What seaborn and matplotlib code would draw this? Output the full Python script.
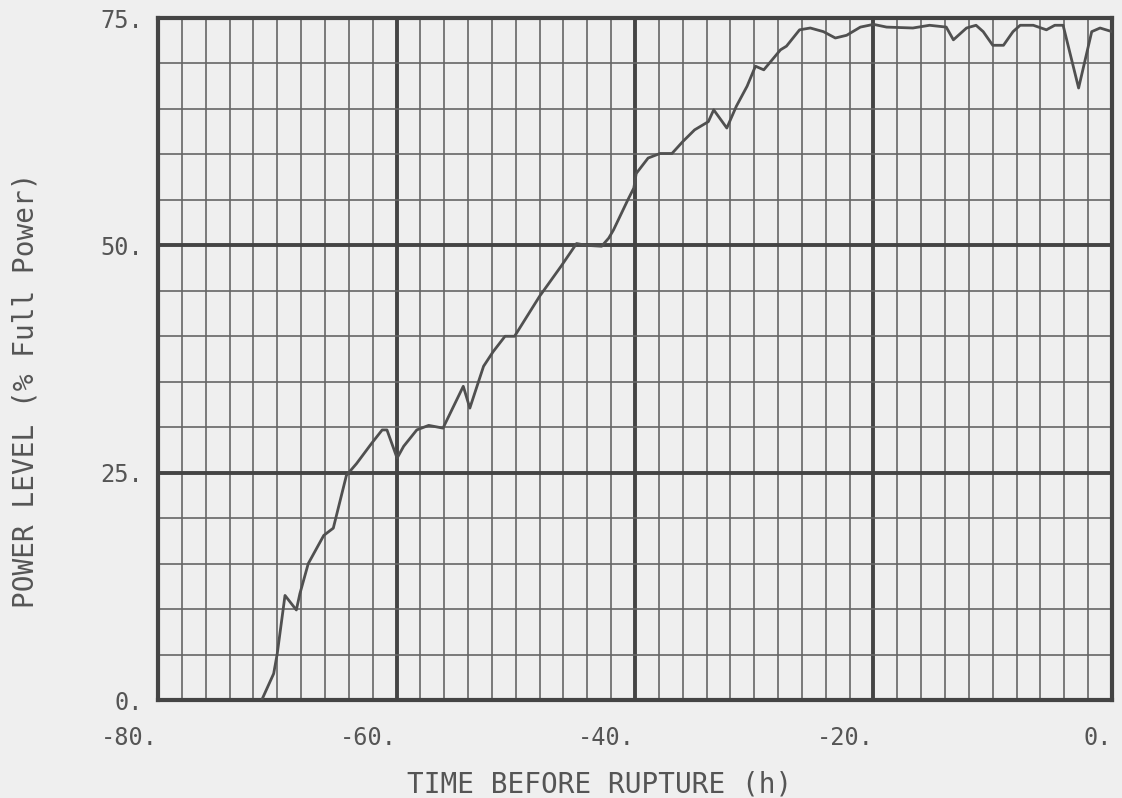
import seaborn as sns
import matplotlib.pyplot as plt
from matplotlib.ticker import MultipleLocator

# power history (hours before rupture, % full power)
time_h = [-71.3, -70.3, -70.0, -69.35, -68.4, -68.1, -67.4, -66.1, -65.3, -64.2,
          -63.35, -62.1, -61.2, -60.8, -59.95, -59.4, -58.3, -57.3, -56.1, -54.4,
          -53.85, -52.7, -51.9, -50.9, -50.1, -48.0, -46.2, -44.9, -44.1, -42.8,
          -42.2, -41.8, -40.6, -40.1, -39.9, -38.9, -37.9, -36.9, -36.0, -35.0,
          -33.85, -33.4, -32.3, -31.5, -30.6, -29.9, -29.2, -28.5, -27.8, -27.3,
          -26.2, -25.3, -24.2, -23.2, -22.25, -21.1, -20.0, -18.9, -16.7, -15.3,
          -13.9, -13.3, -12.2, -11.4, -10.8, -10.0, -9.1, -8.3, -7.7, -6.6,
          -5.5, -4.8, -4.1, -2.8, -1.7, -1.0, 0.0]
power_pct = [0.0, 2.9, 5.1, 11.5, 9.9, 11.7, 15.0, 18.1, 18.9, 24.7,
             26.0, 28.2, 29.7, 29.7, 26.6, 27.9, 29.7, 30.2, 29.9, 34.5,
             32.1, 36.7, 38.3, 40.0, 40.0, 44.4, 47.7, 50.2, 50.0, 49.9,
             50.8, 51.7, 55.0, 56.3, 57.9, 59.6, 60.1, 60.1, 61.4, 62.7,
             63.6, 64.9, 62.9, 65.3, 67.5, 69.7, 69.3, 70.4, 71.5, 71.9,
             73.7, 73.9, 73.5, 72.8, 73.1, 74.0, 74.3, 74.0, 73.9, 74.2,
             74.0, 72.6, 73.9, 74.2, 73.5, 72.0, 72.0, 73.5, 74.2, 74.2,
             73.7, 74.2, 74.2, 67.3, 73.5, 73.9, 73.5]

x_ticks = [-80, -60, -40, -20, 0]
x_tick_labels = ['-80.', '-60.', '-40.', '-20.', '0.']
y_ticks = [0, 25, 50, 75]
y_tick_labels = ['0.', '25.', '50.', '75.']

paper = '#efefef'
ink = '#444444'

sns.set_style('ticks')
plt.rcParams['font.family'] = ['DejaVu Sans Mono', 'DejaVu Sans']

fig = plt.figure(figsize=(11.22, 7.98), dpi=100, facecolor=paper)
ax = fig.add_axes([158 / 1122, 98 / 798, 954 / 1122, 682 / 798], facecolor=paper)

sns.lineplot(x=time_h, y=power_pct, ax=ax, color='#505050', lw=2.0, zorder=3)

ax.set_xlim(-80, 0)
ax.set_ylim(0, 75)
ax.set_xticks(x_ticks)
ax.set_xticklabels(x_tick_labels)
ax.set_yticks(y_ticks)
ax.set_yticklabels(y_tick_labels)
ax.xaxis.set_minor_locator(MultipleLocator(2))
ax.yaxis.set_minor_locator(MultipleLocator(5))

ax.grid(which='major', color=ink, lw=2.8)
ax.grid(which='minor', color='#666666', lw=1.2)
ax.set_axisbelow(True)

ax.tick_params(which='both', length=0, labelsize=17, labelcolor='#555555')
ax.tick_params(axis='x', pad=19)
ax.tick_params(axis='y', pad=11)
plt.setp(ax.get_xticklabels(), ha='right')

for s in ax.spines.values():
    s.set_linewidth(3)
    s.set_color(ink)

ax.set_xlabel('')
ax.set_ylabel('')
fig.text(600 / 1122, 1 - 784 / 798, 'TIME BEFORE RUPTURE (h)', ha='center', va='center',
         fontsize=20, color='#555555')
fig.text(26 / 1122, 1 - 390 / 798, 'POWER LEVEL (% Full Power)', ha='center', va='center',
         rotation=90, fontsize=20, color='#555555')

fig.savefig('out.png', dpi=100, facecolor=paper)
